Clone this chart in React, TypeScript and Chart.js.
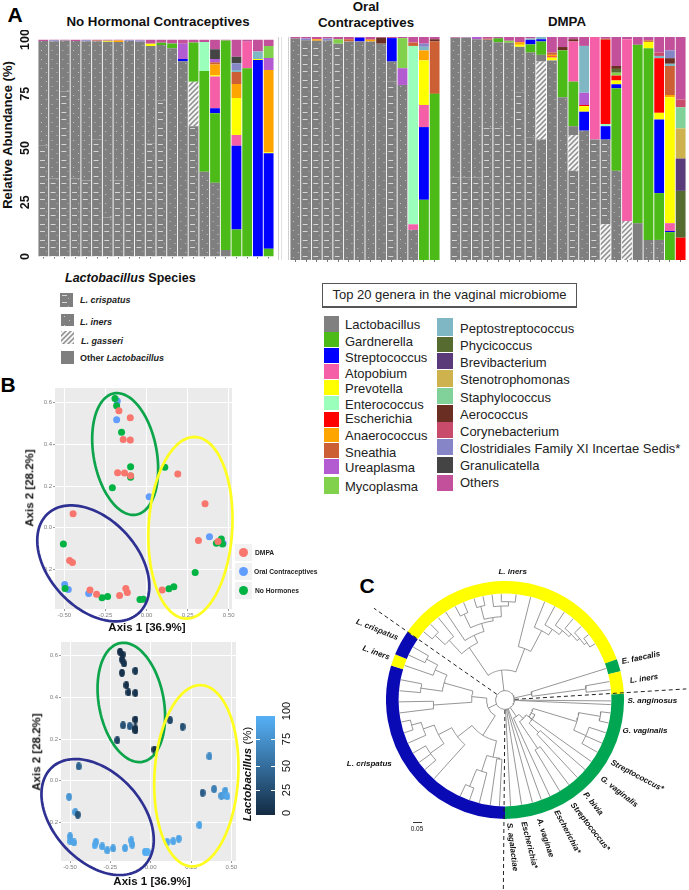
import React, { useEffect, useRef } from "react";
import { Chart, registerables } from "chart.js";

Chart.register(...registerables);
Chart.defaults.font.family = "'Liberation Sans', Arial, sans-serif";

const FONT = "'Liberation Sans', Arial, sans-serif";

// ---------- Panel A ----------
const genusLegendLeft = [
  ["Lactobacillus", "#808080"], ["Gardnerella", "#4CBB17"], ["Streptococcus", "#0000FF"], ["Atopobium", "#F45FA8"],
  ["Prevotella", "#FFFF00"], ["Enterococcus", "#99FFBB"], ["Escherichia", "#FF0000"], ["Anaerococcus", "#FFA500"],
  ["Sneathia", "#CC5F33"], ["Ureaplasma", "#B35CD1"], ["Mycoplasma", "#82D14C"],
];
const genusLegendRight = [
  ["Peptostreptococcus", "#7FB8C4"], ["Phycicoccus", "#556B2F"], ["Brevibacterium", "#5A3A78"], ["Stenotrophomonas", "#CDB24D"],
  ["Staphylococcus", "#80D29A"], ["Aerococcus", "#6B2E22"], ["Corynebacterium", "#C84B6B"],
  ["Clostridiales Family XI Incertae Sedis*", "#8585C8"], ["Granulicatella", "#444444"], ["Others", "#C3509B"],
];
const stackKeys = ["GL", "Cr", "In", "Lg", "Ot", "Ga", "St", "At", "Pr", "En", "Es", "An", "Sn", "Ur", "My", "Pe", "Ph", "Br", "Sm", "Sa", "Ae", "Co", "Cl", "Gr", "Oo"];
const stackNames = ["L. gasseri", "L. crispatus", "L. iners", "L. gasseri", "Other Lactobacillus",
  "Gardnerella", "Streptococcus", "Atopobium", "Prevotella", "Enterococcus", "Escherichia", "Anaerococcus", "Sneathia", "Ureaplasma", "Mycoplasma",
  "Peptostreptococcus", "Phycicoccus", "Brevibacterium", "Stenotrophomonas", "Staphylococcus", "Aerococcus", "Corynebacterium", "Clostridiales Family XI Incertae Sedis*", "Granulicatella", "Others"];

// each bar: taxon key, then the cumulative top of that taxon (%)
const barsNoHormone: any[][] = [
  ["Cr", 51, "In", 99.3, "Oo", 100],
  ["Cr", 36, "In", 99.2, "Cl", 99.7, "Oo", 100],
  ["Cr", 76, "In", 99.5, "Oo", 100],
  ["Cr", 36, "In", 99.3, "Oo", 100],
  ["Cr", 35, "In", 99.2, "Cl", 99.7, "Oo", 100],
  ["Cr", 54, "In", 99.2, "Sn", 99.5, "Oo", 100],
  ["Cr", 18, "In", 99, "Pr", 99.4, "Oo", 100],
  ["Cr", 35, "In", 98.8, "An", 99.5, "Oo", 100],
  ["Cr", 32, "In", 99.3, "Cl", 99.7, "Oo", 100],
  ["Cr", 32, "In", 99, "Cl", 99.5, "Oo", 100],
  ["Cr", 52, "In", 97, "Pr", 98, "Oo", 100],
  ["Cr", 72, "In", 97.5, "Ga", 98.5, "Oo", 100],
  ["In", 96, "Ga", 98.2, "Oo", 100],
  ["In", 90, "St", 91, "Ur", 98, "Oo", 100],
  ["Cr", 60, "Lg", 80.5, "Ga", 98.6, "Oo", 100],
  ["In", 39, "Ga", 85.5, "En", 98.8, "Oo", 100],
  ["In", 34, "Ga", 66, "St", 68.3, "At", 83, "Pr", 83.5, "An", 88.5, "Sn", 89.5, "Ur", 91, "Gr", 95.5, "Oo", 100],
  ["Ot", 3, "Ga", 99.5, "Oo", 100],
  ["Ga", 12.5, "St", 51, "At", 56, "Pr", 73, "An", 79.5, "Sn", 85, "Pe", 86, "Cl", 89, "Gr", 92, "Oo", 100],
  ["Ga", 86.8, "At", 99, "Oo", 100],
  ["St", 90.5, "Pr", 91, "Pe", 94.5, "Oo", 100],
  ["Ga", 3.6, "St", 47.6, "Pr", 48, "An", 86, "Ur", 91.5, "My", 97, "Oo", 100],
];
const barsOral: any[][] = [
  ["In", 99.3, "Oo", 100],
  ["Cr", 98.5, "Cl", 99.3, "Oo", 100],
  ["Cr", 98.3, "An", 99, "Oo", 100],
  ["Cr", 52, "In", 98.4, "Cl", 99.3, "Oo", 100],
  ["Cr", 97, "My", 99, "Oo", 100],
  ["In", 98, "Sn", 99, "Oo", 100],
  ["In", 98, "St", 99.7, "Oo", 100],
  ["In", 98, "An", 98.7, "Sn", 99, "Oo", 100],
  ["In", 97, "Ae", 99.7, "Oo", 100],
  ["Cr", 80, "In", 89, "St", 99.5, "Oo", 100],
  ["In", 78.5, "Ur", 86, "My", 99.5, "Oo", 100],
  ["In", 13.5, "At", 16, "En", 96, "Sn", 97.5, "Oo", 100],
  ["Ga", 27, "St", 59.6, "At", 69.5, "Pr", 89.5, "An", 94, "Pe", 95.6, "Cl", 97, "Oo", 100],
  ["Ga", 74.5, "Sn", 98, "Ae", 99, "Oo", 100],
];
const barsDmpa: any[][] = [
  ["Cr", 37, "In", 99.7, "Oo", 100],
  ["Cr", 37, "In", 99.5, "Pe", 99.7, "Oo", 100],
  ["Cr", 37, "In", 99, "Ur", 100],
  ["Cr", 59, "In", 98.8, "Sn", 99.2, "Oo", 100],
  ["Cr", 59, "In", 97.7, "Ga", 99.3, "Gr", 99.6, "Oo", 100],
  ["Cr", 57, "In", 97.4, "My", 98.3, "Oo", 100],
  ["Cr", 75, "In", 95.6, "Pr", 96.5, "An", 97.7, "Oo", 100],
  ["Cr", 55, "In", 93, "Ga", 96.7, "St", 98.7, "Pe", 99.3, "Oo", 100],
  ["In", 54, "Lg", 89, "Ot", 92, "Ga", 98, "St", 99, "Pe", 100],
  ["In", 89.5, "Pr", 90.8, "Es", 91.3, "An", 92, "Sn", 93, "Oo", 100],
  ["In", 73, "Ga", 94, "Ae", 95.5, "Oo", 100],
  ["Cr", 40, "Lg", 56, "Ot", 60, "Ga", 80, "At", 98, "Ae", 99, "Oo", 100],
  ["In", 58, "St", 66.5, "Pr", 69, "Es", 69.5, "Ur", 75, "Pe", 96, "Oo", 100],
  ["Cr", 54, "At", 100],
  ["GL", 16, "Cr", 54, "St", 60, "En", 61, "Es", 98.7, "Sn", 99.2, "Oo", 100],
  ["In", 40, "Ga", 77, "St", 78.8, "Pr", 80.5, "Es", 82.7, "My", 84, "Ph", 85.7, "Ae", 87, "Oo", 100],
  ["GL", 17.5, "At", 99, "Oo", 100],
  ["Ot", 16.5, "Ga", 96.5, "Oo", 100],
  ["In", 9, "Ga", 95, "Pr", 97.8, "Sn", 98.5, "Oo", 100],
  ["In", 9, "Ga", 30, "St", 63, "Pr", 66, "Es", 90.5, "Pe", 91.5, "Co", 93, "Oo", 100],
  ["Ga", 12.5, "St", 13, "At", 16.5, "Pr", 73, "An", 74, "Sn", 87, "Pe", 88, "Ae", 90.5, "Cl", 94, "Oo", 100],
  ["Es", 10, "Ph", 31, "Br", 45.5, "Sm", 59, "Sa", 68.5, "Co", 72, "Oo", 100],
];
const abundanceTicks = [0, 25, 50, 75, 100];

// ---------- Panel B ----------
const axis1Ticks = [-0.5, -0.25, 0, 0.25, 0.5];
const axis2Ticks = [-0.2, 0, 0.2, 0.4, 0.6];
const noHormonePts = [[-0.192, 0.621], [-0.182, 0.586], [-0.152, 0.458], [-0.097, 0.293], [-0.097, 0.242], [-0.097, 0.248], [-0.208, 0.192], [0.111, 0.29], [-0.506, -0.078], [-0.496, -0.291], [-0.271, -0.336], [-0.237, -0.33], [-0.04, -0.344], [-0.02, -0.343], [0.136, -0.293], [0.166, -0.283], [0.296, -0.215], [0.425, -0.074], [0.455, -0.054], [0.462, -0.078]];
const oralPts = [[-0.178, 0.608], [-0.182, 0.519], [0.016, 0.149], [0.383, -0.043], [0.455, -0.07], [0.466, -0.075], [-0.498, -0.272], [-0.476, -0.296], [-0.352, -0.315]];
const dmpaPts = [[-0.168, 0.562], [-0.099, 0.528], [-0.142, 0.424], [-0.099, 0.421], [-0.176, 0.264], [-0.134, 0.263], [-0.097, 0.25], [0.19, 0.258], [0.356, 0.115], [-0.447, 0.067], [0.316, -0.061], [0.435, -0.066], [-0.468, -0.157], [-0.451, -0.167], [-0.344, -0.299], [-0.304, -0.319], [-0.164, -0.325], [-0.126, -0.291], [-0.117, -0.311], [0.095, -0.299]];
// x, y, Lactobacillus %
const lactoPts = [[-0.19, 0.619, 3], [-0.174, 0.606, 2], [-0.178, 0.582, 4], [-0.165, 0.563, 6], [-0.178, 0.518, 5], [-0.095, 0.528, 8], [-0.151, 0.459, 4], [-0.138, 0.424, 6], [-0.095, 0.421, 7], [-0.171, 0.266, 28], [-0.13, 0.262, 36], [-0.095, 0.294, 3], [-0.095, 0.251, 5], [-0.095, 0.242, 4], [-0.207, 0.194, 18], [0.023, 0.15, 4], [0.12, 0.291, 22], [0.198, 0.259, 28], [0.364, 0.117, 72], [-0.446, 0.069, 42], [-0.506, -0.077, 80], [-0.467, -0.15, 82], [-0.452, -0.163, 30], [0.322, -0.058, 38], [0.393, -0.04, 62], [0.438, -0.072, 80], [0.463, -0.048, 85], [0.455, -0.069, 88], [0.475, -0.075, 92], [0.302, -0.213, 90], [-0.5, -0.267, 88], [-0.498, -0.29, 90], [-0.475, -0.296, 90], [-0.347, -0.309, 95], [-0.339, -0.293, 92], [-0.3, -0.315, 90], [-0.269, -0.334, 90], [-0.233, -0.325, 88], [-0.159, -0.323, 90], [-0.12, -0.286, 92], [-0.114, -0.307, 90], [-0.035, -0.341, 95], [-0.019, -0.341, 98], [0.103, -0.294, 95], [0.14, -0.29, 92], [0.174, -0.278, 90]];
// centre, first semi-axis, second semi-axis, colour (axis units)
const ellipsesTop: any[] = [
  [-0.13, 0.354, -0.0676, 0.291, 0.189, 0.0274, "#0DA54B"],
  [0.267, 0.0, 0.024, 0.436, 0.255, 0.0, "#FFFF1F"],
  [-0.324, -0.171, 0.279, -0.237, 0.196, 0.146, "#2E3192"],
];
const ellipsesBottom: any[] = [
  [-0.12, 0.376, -0.068, 0.285, 0.198, 0.027, "#0DA54B"],
  [0.283, 0.024, 0.025, 0.435, 0.26, 0.0, "#FFFF1F"],
  [-0.329, -0.174, 0.285, -0.237, 0.2, 0.146, "#2E3192"],
];
const colorbarTicks = [[0, 813], [25, 790], [50, 766], [75, 739], [100, 711]];

// ---------- Panel C ----------
const ringSizes = [125.1, 6, 11, 93, 106.8, 5.8, 12.3];
const ringColors = ["#FFFF00", "#00A651", "#FFFF00", "#00A651", "#0A0AB4", "#FFFF00", "#0A0AB4"];
const ringLabels = ["L. iners", "E. faecalis", "L. iners", "G. vaginalis", "L. crispatus", "L. iners", "L. crispatus"];
const ringStart = 304.9;
// nested tree: [branch height, ...children], a bare number is a tip at that bearing in degrees
const treeHeights: any[] = [28,
  [90,
    [190, [245, [285, -50, -44.5], -39], [215, -34, [240, [285, -28, -23], [250, [290, -17, -12], [282, -7, [295, -2, 6]]]]]],
    [165, 14, [235, 22, [255, 28, [270, 34, [280, 40, [290, 46, [300, 52, 58]]]]]]],
  ],
  [82, 72.7, [245, 80, 84.5]],
  [45, 90.5, 92.5],
  [60, 155, [78, [175, 149, 143], [100, [140, 137, 131], [88, 125.5, [225, [290, 97, 102.5], [265, 108, 114, 119.5]]]]]],
  160, 165, 171, 177,
  [55,
    [125,
      [180, [225, [260, [290, 258, 252], 246], [275, 240, 234, 229]], 222],
      [175, [225, [280, 205, 199.5], 194], [178, 188, 183]],
    ],
    [100,
      [190, [228, [265, 300, 295], 289], [255, 281, 275]],
      [215, 269, 263],
    ],
  ],
];
const dashedRays = [[305, 30, 480], [86.5, 30, 545], [180.5, 30, 567]];

const tipLabels: any[] = [
  ["L. iners", 512.7, 571.7, 0], ["L. crispatus", 377.3, 630, 22], ["L. iners", 375.7, 653.3, 20], ["L. crispatus", 369.3, 764, 0],
  ["E. faecalis", 641, 658.3, -12], ["L. iners", 644, 679.3, -8], ["S. anginosus", 652.3, 700.7, 0], ["G. vaginalis", 645, 731, 0],
  ["Streptococcus*", 637.3, 776, 28], ["G. vaginalis", 619.3, 791.7, 38], ["P. bivia", 593.3, 804.3, 52], ["Streptococcus*", 590, 826.7, 52],
  ["Escherichia*", 567.3, 831.7, 62], ["A. vaginae", 545, 838.3, 72], ["Escherichia*", 529.3, 845, 76], ["S. agalactiae", 512.3, 846.7, 83],
];
const genusRowsLeft = [324, 341, 357, 373, 388, 404, 418, 435, 452, 467, 486];
const genusRowsRight = [328, 345, 362, 379, 397, 414, 431, 448, 465, 482];
const swatchLeft = [[316, 16], [332, 15], [348, 15], [364, 15], [380, 15], [396, 14], [412, 15], [428, 14], [443, 15], [459, 15], [477, 17]];
const swatchRight = [[318, 18], [337, 15], [353, 16], [370, 17], [388, 16], [405, 17], [422, 16], [439, 16], [457, 16], [475, 16]];

// ---------- helpers ----------
const GRAY = "#7F7F7F";
function tile(kind: string) {
  const c = document.createElement("canvas");
  const x = c.getContext("2d") as CanvasRenderingContext2D;
  if (kind === "Cr") {
    c.width = 11; c.height = 16;
    x.fillStyle = GRAY; x.fillRect(0, 0, 11, 16);
    x.fillStyle = "#D6D6D6"; x.fillRect(2, 2, 5, 1); x.fillRect(2, 9, 5, 1);
    x.fillStyle = "#B4B4B4"; x.fillRect(8, 5, 1, 1); x.fillRect(8, 13, 1, 1);
  } else if (kind === "In") {
    c.width = 11; c.height = 9;
    x.fillStyle = GRAY; x.fillRect(0, 0, 11, 9);
    x.fillStyle = "#C8C8C8"; x.fillRect(3, 2, 1, 1); x.fillRect(8, 6, 1, 1);
  } else {
    c.width = 5; c.height = 5;
    x.fillStyle = "#F4F4F4"; x.fillRect(0, 0, 5, 5);
    x.strokeStyle = "#8C8C8C"; x.lineWidth = 1.5;
    x.beginPath(); x.moveTo(-1, 1); x.lineTo(1, -1); x.moveTo(-1, 6); x.lineTo(6, -1); x.moveTo(4, 6); x.lineTo(6, 4); x.stroke();
  }
  return c;
}
function fillFor(key: string, ctx: CanvasRenderingContext2D, left: number, barW: number): any {
  const all: any = Object.fromEntries([...genusLegendLeft, ...genusLegendRight]);
  if (key === "Cr" || key === "In") {
    const p = ctx.createPattern(tile(key), "repeat") as CanvasPattern;
    p.setTransform(new DOMMatrix().translate(left, 0).scale(barW / 11, 1));
    return p;
  }
  if (key === "Lg" || key === "GL") return ctx.createPattern(tile("Lg"), "repeat");
  if (key === "Ot") return GRAY;
  const name = stackNames[stackKeys.indexOf(key)];
  return all[name];
}
function stackData(bars: any[][], key: string) {
  return bars.map((b) => {
    let prev = 0;
    for (let i = 0; i < b.length; i += 2) {
      if (b[i] === key) return +(b[i + 1] - prev).toFixed(2);
      prev = b[i + 1];
    }
    return 0;
  });
}
function barChart(canvas: HTMLCanvasElement, bars: any[][], plotLeft: number, withAxis: boolean) {
  const ctx = canvas.getContext("2d") as CanvasRenderingContext2D;
  const barW = (canvas.width - plotLeft) / bars.length;
  return new Chart(canvas, {
    type: "bar",
    data: {
      labels: bars.map((_, i) => String(i + 1)),
      datasets: stackKeys.map((k, i) => ({
        label: stackNames[i], data: stackData(bars, k), backgroundColor: fillFor(k, ctx, plotLeft, barW),
        borderWidth: 0, barPercentage: 1, categoryPercentage: 0.915,
      })),
    },
    options: {
      responsive: false, animation: false,
      layout: { autoPadding: false, padding: { top: 7, left: 0, right: 0, bottom: 0 } },
      plugins: { legend: { display: false }, title: { display: false }, tooltip: { enabled: false } },
      scales: {
        x: {
          stacked: true, border: { display: false }, afterFit: (s: any) => { s.height = 6; },
          grid: { display: true, drawOnChartArea: false, drawTicks: true, tickLength: 2, offset: false, tickColor: "#777" } as any,
          ticks: { display: false, autoSkip: false },
        },
        y: {
          stacked: true, min: 0, max: 100, display: withAxis, border: { display: false },
          afterFit: (s: any) => { s.width = plotLeft; },
          afterBuildTicks: (s: any) => { s.ticks = abundanceTicks.map((value) => ({ value })); },
          grid: { display: false, drawTicks: false },
          ticks: { minRotation: 90, maxRotation: 90, crossAlign: "center", padding: 2, color: "#111", font: { size: 12.5, weight: "bold" } } as any,
        },
      },
    } as any,
  });
}
const plotBg = {
  id: "plotBg",
  beforeDraw(c: any) { const a = c.chartArea; c.ctx.fillStyle = "#EBEBEB"; c.ctx.fillRect(a.left, a.top, a.width, a.height); },
};
function ellipsePlugin(list: any[]) {
  return {
    id: "ellipses",
    afterDraw(c: any) {
      const { x, y } = c.scales; const g = c.ctx;
      g.save(); g.lineWidth = 2.7;
      for (const [cx, cy, ux, uy, vx, vy, color] of list) {
        g.strokeStyle = color; g.beginPath();
        for (let t = 0; t <= 360; t += 3) {
          const r = (t * Math.PI) / 180;
          const px = x.getPixelForValue(cx + ux * Math.cos(r) + vx * Math.sin(r));
          const py = y.getPixelForValue(cy + uy * Math.cos(r) + vy * Math.sin(r));
          if (t === 0) g.moveTo(px, py); else g.lineTo(px, py);
        }
        g.closePath(); g.stroke();
      }
      g.restore();
    },
  };
}
function scatterOptions(plotLeft: number, padTop: number, bottomH: number, padRight: number, xr: number[], yr: number[]) {
  const tickFont = { size: 6 };
  return {
    responsive: false, animation: false,
    layout: { autoPadding: false, padding: { top: padTop, right: padRight, left: 0, bottom: 0 } },
    plugins: { legend: { display: false }, title: { display: false }, tooltip: { enabled: false } },
    scales: {
      x: {
        type: "linear", min: xr[0], max: xr[1], border: { display: false }, afterFit: (s: any) => { s.height = bottomH; },
        afterBuildTicks: (s: any) => { s.ticks = axis1Ticks.map((value) => ({ value })); },
        grid: { color: "#FFFFFF", lineWidth: 1, tickColor: "#999", tickLength: 2 },
        ticks: { color: "#7F7F7F", font: tickFont, padding: 1, maxRotation: 0, callback: (v: number) => v.toFixed(2) },
      },
      y: {
        type: "linear", min: yr[0], max: yr[1], border: { display: false }, afterFit: (s: any) => { s.width = plotLeft; },
        afterBuildTicks: (s: any) => { s.ticks = axis2Ticks.map((value) => ({ value })); },
        grid: { color: "#FFFFFF", lineWidth: 1, tickColor: "#999", tickLength: 2 },
        ticks: { color: "#7F7F7F", font: tickFont, padding: 1, callback: (v: number) => Math.abs(v).toFixed(1) },
      },
    },
  } as any;
}
function toXY(p: number[]) { return { x: p[0], y: p[1] }; }
function lactoColor(v: number) {
  const t = v / 100;
  const mix = (a: number, b: number) => Math.round(a + (b - a) * t);
  return `rgb(${mix(19, 86)},${mix(43, 177)},${mix(67, 247)})`;
}
function ovalSprite(color: string) {
  const c = document.createElement("canvas"); c.width = 6; c.height = 8;
  const g = c.getContext("2d") as CanvasRenderingContext2D;
  g.fillStyle = color; g.beginPath(); g.ellipse(3, 4, 2.9, 3.9, 0, 0, Math.PI * 2); g.fill();
  return c;
}
function polar(a: number, r: number) {
  const t = (a * Math.PI) / 180;
  return { x: r * Math.sin(t), y: r * Math.cos(t) };
}
function treePoints(node: any, parentR: number, out: any[]): number {
  if (typeof node === "number") {
    out.push(polar(node, parentR), polar(node, 318), { x: NaN, y: NaN });
    return node;
  }
  const [r, ...kids] = node;
  const angles = kids.map((k: any) => treePoints(k, r, out));
  const lo = Math.min(...angles), hi = Math.max(...angles);
  for (let a = lo; a < hi; a += 2) out.push(polar(a, r));
  out.push(polar(hi, r), { x: NaN, y: NaN });
  const mid = (lo + hi) / 2;
  out.push(polar(mid, parentR), polar(mid, r), { x: NaN, y: NaN });
  return mid;
}
function hiddenAxes(xm: number, ym: number) {
  return {
    x: { type: "linear", min: -xm, max: xm, display: false },
    y: { type: "linear", min: -ym, max: ym, display: false },
  };
}

// ---------- small DOM helpers ----------
const Txt = ({ x, y, rot = 0, size = 8, bold = false, italic = false, color = "#111", children }: any) => (
  <div style={{
    position: "absolute", left: x, top: y, transform: `translate(-50%,-50%) rotate(${rot}deg)`, whiteSpace: "nowrap",
    fontFamily: FONT, fontSize: size, fontWeight: bold ? 700 : 400, fontStyle: italic ? "italic" : "normal", color, lineHeight: 1,
  }}>{children}</div>
);
const TxtL = ({ x, y, size = 13, bold = false, italic = false, color = "#222", children }: any) => (
  <div style={{
    position: "absolute", left: x, top: y, transform: "translateY(-50%)", whiteSpace: "nowrap",
    fontFamily: FONT, fontSize: size, fontWeight: bold ? 700 : 400, fontStyle: italic ? "italic" : "normal", color, lineHeight: 1,
  }}>{children}</div>
);
const Box = ({ x, y, w, h, bg, style }: any) => (
  <div style={{ position: "absolute", left: x, top: y, width: w, height: h, background: bg, ...style }} />
);
const patternUrl = (k: string) => `url(${tile(k).toDataURL()})`;

export default function App() {
  const a1 = useRef<HTMLCanvasElement>(null);
  const a2 = useRef<HTMLCanvasElement>(null);
  const a3 = useRef<HTMLCanvasElement>(null);
  const b1 = useRef<HTMLCanvasElement>(null);
  const b2 = useRef<HTMLCanvasElement>(null);
  const ring = useRef<HTMLCanvasElement>(null);
  const tree = useRef<HTMLCanvasElement>(null);

  useEffect(() => {
    const charts: Chart[] = [];
    charts.push(barChart(a1.current as HTMLCanvasElement, barsNoHormone, 38, true));
    charts.push(barChart(a2.current as HTMLCanvasElement, barsOral, 0, false));
    charts.push(barChart(a3.current as HTMLCanvasElement, barsDmpa, 0, false));

    const dot = (label: string, pts: number[][], color: string) => ({
      label, data: pts.map(toXY), backgroundColor: color, borderWidth: 0, pointRadius: 3.5,
    });
    charts.push(new Chart(b1.current as HTMLCanvasElement, {
      type: "scatter",
      data: { datasets: [dot("DMPA", dmpaPts, "#F8766D"), dot("No Hormones", noHormonePts, "#00B342"), dot("Oral Contraceptives", oralPts, "#619CFF")] },
      options: scatterOptions(55, 8, 25, 8, [-0.557, 0.52], [-0.39, 0.671]),
      plugins: [plotBg, ellipsePlugin(ellipsesTop)],
    } as any));

    charts.push(new Chart(b2.current as HTMLCanvasElement, {
      type: "scatter",
      data: {
        datasets: [{
          label: "Lactobacillus (%)",
          data: lactoPts.map((p) => ({ x: p[0], y: p[1] })),
          pointStyle: lactoPts.map((p) => ovalSprite(lactoColor(p[2]))),
          backgroundColor: lactoPts.map((p) => lactoColor(p[2])),
          pointRadius: 4,
        }],
      },
      options: scatterOptions(61, 7, 29, 4, [-0.556, 0.529], [-0.385, 0.666]),
      plugins: [plotBg, ellipsePlugin(ellipsesBottom)],
    } as any));

    charts.push(new Chart(ring.current as HTMLCanvasElement, {
      type: "doughnut",
      data: { labels: ringLabels, datasets: [{ data: ringSizes, backgroundColor: ringColors, borderWidth: 0 }] },
      options: {
        responsive: false, animation: false, rotation: ringStart, cutout: "89.4%",
        layout: { padding: 0 }, plugins: { legend: { display: false }, tooltip: { enabled: false } },
      },
    } as any));

    const treePts: any[] = [];
    const [rootR, ...clades] = treeHeights;
    clades.forEach((c: any) => treePoints(c, rootR, treePts));
    for (let a = 0; a <= 360; a += 6) treePts.push(polar(a, rootR));
    const rayPts: any[] = [];
    dashedRays.forEach(([a, r0, r1]) => rayPts.push(polar(a, r0), polar(a, r1), { x: NaN, y: NaN }));
    charts.push(new Chart(tree.current as HTMLCanvasElement, {
      type: "scatter",
      data: {
        datasets: [
          { label: "tree", data: treePts, showLine: true, pointRadius: 0, borderColor: "#8A8A8A", borderWidth: 0.9, spanGaps: false },
          { label: "clusters", data: rayPts, showLine: true, pointRadius: 0, borderColor: "#222", borderWidth: 1, borderDash: [4, 3], spanGaps: false },
        ],
      },
      options: {
        responsive: false, animation: false, layout: { autoPadding: false, padding: 0 },
        plugins: { legend: { display: false }, tooltip: { enabled: false } },
        scales: hiddenAxes(552, 570),
      },
    } as any));
    return () => charts.forEach((c) => c.destroy());
  }, []);

  const abs = (l: number, t: number) => ({ position: "absolute" as const, left: l, top: t });

  return (
    <div style={{ position: "absolute", left: 0, top: 0, width: 689, height: 890, overflow: "hidden", background: "#fff", filter: "blur(0.35px)" }}>
      <Txt x={15} y={14} size={21} bold color="#000">A</Txt>
      <Txt x={8} y={384} size={21} bold color="#000">B</Txt>
      <Txt x={367} y={585} size={21} bold color="#000">C</Txt>

      <Txt x={158} y={22} size={13.3} bold>No Hormonal Contraceptives</Txt>
      <Txt x={366} y={7} size={13.3} bold>Oral</Txt>
      <Txt x={366} y={23} size={13.3} bold>Contraceptives</Txt>
      <Txt x={567} y={22} size={13.3} bold>DMPA</Txt>
      <Txt x={7} y={135} rot={-90} size={13} bold>Relative Abundance (%)</Txt>

      <canvas ref={a1} width={274} height={236} style={abs(0, 30)} />
      <canvas ref={a2} width={150} height={236} style={abs(290, 30)} />
      <canvas ref={a3} width={236} height={236} style={abs(450, 30)} />
      <Box x={278} y={37} w={1} h={223} bg="#CFCFCF" />
      <Box x={281} y={37} w={1} h={223} bg="#E2E2E2" />
      <Box x={288} y={37} w={1} h={223} bg="#CFCFCF" />

      {/* species legend */}
      <TxtL x={65} y={278} size={12.5} bold color="#111"><i>Lactobacillus</i> Species</TxtL>
      <Box x={60} y={293} w={13} h={14} bg={patternUrl("Cr")} />
      <Box x={61} y={314} w={13} h={12} bg={patternUrl("In")} />
      <Box x={61} y={331} w={13} h={13} bg={patternUrl("Lg")} />
      <Box x={61} y={351} w={13} h={13} bg={GRAY} />
      <TxtL x={80} y={300} size={9} bold italic>L. crispatus</TxtL>
      <TxtL x={80} y={322} size={9} bold italic>L. iners</TxtL>
      <TxtL x={81} y={341} size={9} bold italic>L. gasseri</TxtL>
      <TxtL x={80} y={358} size={9} bold>Other <i>Lactobacillus</i></TxtL>

      {/* genera legend */}
      <div style={{ position: "absolute", left: 322, top: 283, width: 253, height: 22, border: "1px solid #555", borderBottomWidth: 2, fontFamily: FONT, fontSize: 13, lineHeight: "22px", textAlign: "center", color: "#222", whiteSpace: "nowrap" }}>
        Top 20 genera in the vaginal microbiome
      </div>
      {genusLegendLeft.map(([name, color], i) => (
        <React.Fragment key={name}>
          <Box x={324} y={swatchLeft[i][0]} w={15} h={swatchLeft[i][1]} bg={color} />
          <TxtL x={345} y={genusRowsLeft[i]}>{name}</TxtL>
        </React.Fragment>
      ))}
      {genusLegendRight.map(([name, color], i) => (
        <React.Fragment key={name}>
          <Box x={437} y={swatchRight[i][0]} w={16} h={swatchRight[i][1]} bg={color} />
          <TxtL x={460} y={genusRowsRight[i]}>{name}</TxtL>
        </React.Fragment>
      ))}

      {/* panel B */}
      <canvas ref={b1} width={240} height={254} style={abs(0, 380)} />
      <Txt x={147} y={628} size={11.5} bold>Axis 1 [36.9%]</Txt>
      <Txt x={30} y={488} rot={-90} size={11.5} bold>Axis 2 [28.2%]</Txt>
      <Box x={235} y={544} w={17} h={17} bg="#F2F2F2" />
      <Box x={235} y={563} w={17} h={17} bg="#F2F2F2" />
      <Box x={235} y={582} w={17} h={17} bg="#F2F2F2" />
      <Box x={239} y={548} w={9} h={9} bg="#F8766D" style={{ borderRadius: "50%" }} />
      <Box x={239} y={567} w={9} h={9} bg="#619CFF" style={{ borderRadius: "50%" }} />
      <Box x={239} y={586} w={9} h={9} bg="#00B342" style={{ borderRadius: "50%" }} />
      <TxtL x={255} y={553} size={6.7} bold>DMPA</TxtL>
      <TxtL x={254} y={571.5} size={6.7} bold>Oral Contraceptives</TxtL>
      <TxtL x={255} y={591} size={6.7} bold>No Hormones</TxtL>

      <canvas ref={b2} width={240} height={255} style={{ ...abs(0, 635) }} />
      <Txt x={152} y={882} size={11.5} bold>Axis 1 [36.9%]</Txt>
      <Txt x={37} y={752} rot={-90} size={11.5} bold>Axis 2 [28.2%]</Txt>
      <Box x={256} y={716} w={19} h={99} bg="linear-gradient(to top,#132B43,#56B1F7)" />
      {colorbarTicks.slice(1, 4).map(([v, y]) => (
        <React.Fragment key={v}>
          <Box x={256} y={y} w={4} h={1} bg="#fff" />
          <Box x={271} y={y} w={4} h={1} bg="#fff" />
        </React.Fragment>
      ))}
      {colorbarTicks.map(([v, y]) => <Txt key={v} x={286} y={y} rot={-90} size={11}>{v}</Txt>)}
      <Txt x={248} y={774} rot={-90} size={11.5}><b><i>Lactobacillus</i></b> (%)</Txt>

      {/* panel C */}
      <canvas ref={ring} width={238} height={238} style={abs(386, 581)} />
      <canvas ref={tree} width={368} height={380} style={abs(321, 510)} />
      {tipLabels.map(([t, x, y, r], i) => <Txt key={i} x={x} y={y} rot={r} size={8} bold italic>{t}</Txt>)}
      <Box x={412.5} y={821.5} w={9} h={1} bg="#333" />
      <Txt x={417} y={829} size={6.5}>0.05</Txt>
    </div>
  );
}
